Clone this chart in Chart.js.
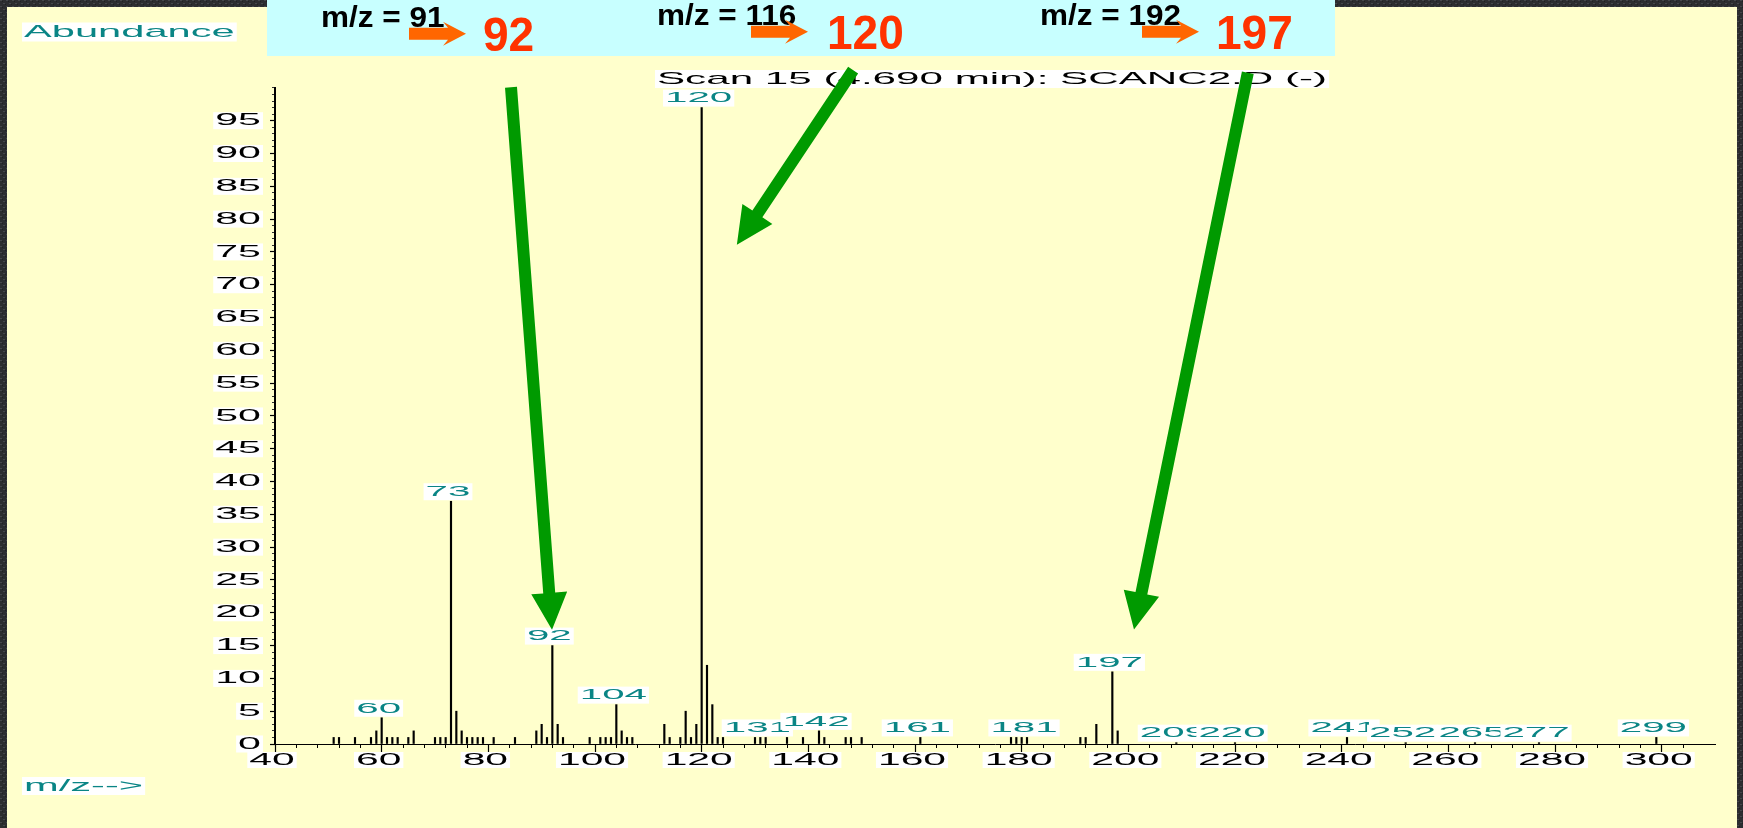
<!DOCTYPE html>
<html>
<head>
<meta charset="utf-8">
<script src="https://cdn.jsdelivr.net/npm/chart.js@4/dist/chart.umd.min.js"></script>
<style>
  html, body { margin: 0; padding: 0; background: #2f3033; }
  canvas { display: block; }
</style>
</head>
<body>
<canvas id="spectrum" width="1743" height="828"></canvas>
<script>
// scan 15 spectrum: m/z and relative abundance
const mz = [51, 52, 55, 58, 59, 60, 61, 62, 63, 65, 66, 70, 71, 72, 73, 74, 75, 76, 77, 78,
            79, 81, 85, 89, 90, 91, 92, 93, 94, 99, 101, 102, 103, 104, 105, 106, 107, 113, 114, 116,
            117, 118, 119, 120, 121, 122, 123, 124, 130, 131, 132, 136, 139, 142, 143, 147, 148, 150, 161, 178,
            179, 180, 181, 191, 192, 194, 197, 198, 209, 220, 241, 252, 265, 277, 299];
const abundance = [1, 1, 1, 1, 2, 4, 1, 1, 1, 1, 2, 1, 1, 1, 37, 5, 2, 1, 1, 1,
                   1, 1, 1, 2, 3, 1, 15, 3, 1, 1, 1, 1, 1, 6, 2, 1, 1, 3, 1, 1,
                   5, 1, 3, 97, 12, 6, 1, 1, 1, 1, 1, 1, 1, 2, 1, 1, 1, 1, 1, 1,
                   1, 1, 1, 1, 1, 3, 11, 2, 0.2, 0.2, 1, 0.2, 0.2, 0.2, 1];
// peaks that get their m/z printed above them
const labelledPeaks = [60, 73, 92, 104, 120, 131, 142, 161, 181, 197, 209, 220, 241, 252, 265, 277, 299];
const xTickLabels = [40, 60, 80, 100, 120, 140, 160, 180, 200, 220, 240, 260, 280, 300];
const yTickLabels = [0, 5, 10, 15, 20, 25, 30, 35, 40, 45, 50, 55, 60, 65, 70, 75, 80, 85, 90, 95];

// callout strip across the top: fragment -> observed ion
const fragmentFrom = ['m/z = 91', 'm/z = 116', 'm/z = 192'];
const fragmentTo = ['92', '120', '197'];

const FONT = '"Liberation Sans", Arial, sans-serif';
const TEAL = '#0a8585';

// ChemStation prints its text very wide, so stretch it through a horizontal scale
function wideText(ctx, text, x, y, o) {
  ctx.save();
  ctx.font = (o.bold ? 'bold ' : '') + o.size + 'px ' + FONT;
  const sx = o.sx || 1;
  const w = ctx.measureText(text).width * sx;
  let left = x;
  if (o.align === 'right') left = x - w;
  else if (o.align === 'center') left = x - w / 2;
  ctx.textBaseline = o.baseline || 'middle';
  if (o.box) {
    const h = o.boxH || o.size + 2;
    const pad = o.pad == null ? 2 : o.pad;
    ctx.fillStyle = o.box;
    ctx.fillRect(left - pad, y - h / 2, w + pad * 2, h);
  }
  ctx.translate(left, y);
  ctx.scale(sx, 1);
  ctx.fillStyle = o.color;
  ctx.textAlign = 'left';
  ctx.fillText(text, 0, 0);
  ctx.restore();
}

// block arrow from (x1,y1) to the tip (x2,y2); neck > headL gives swept-back barbs
function blockArrow(ctx, x1, y1, x2, y2, a) {
  const len = Math.hypot(x2 - x1, y2 - y1);
  const ang = Math.atan2(y2 - y1, x2 - x1);
  const barb = len - a.headL;
  const neck = a.neck != null ? len - a.neck : barb;
  ctx.save();
  ctx.translate(x1, y1);
  ctx.rotate(ang);
  ctx.beginPath();
  ctx.moveTo(0, -a.shaft / 2);
  ctx.lineTo(neck, -a.shaft / 2);
  ctx.lineTo(barb, -a.headW / 2);
  ctx.lineTo(len, 0);
  ctx.lineTo(barb, a.headW / 2);
  ctx.lineTo(neck, a.shaft / 2);
  ctx.lineTo(0, a.shaft / 2);
  ctx.closePath();
  ctx.fillStyle = a.color;
  ctx.fill();
  ctx.restore();
}

function darkPattern(ctx) {
  const c = document.createElement('canvas');
  c.width = 6; c.height = 6;
  const p = c.getContext('2d');
  p.fillStyle = '#2c2d30';
  p.fillRect(0, 0, 6, 6);
  p.fillStyle = '#45474b';
  p.fillRect(0, 0, 2, 1);
  p.fillRect(3, 3, 2, 1);
  p.fillStyle = '#1f2022';
  p.fillRect(2, 1, 1, 1);
  p.fillRect(5, 4, 1, 1);
  return ctx.createPattern(c, 'repeat');
}

const slidePlugin = {
  id: 'slide',
  beforeDraw(chart) {
    const ctx = chart.ctx;
    ctx.save();
    ctx.fillStyle = darkPattern(ctx);
    ctx.fillRect(0, 0, chart.width, chart.height);
    ctx.fillStyle = '#ffffcc';
    ctx.fillRect(7, 7, 1730, chart.height - 7);
    ctx.fillStyle = '#c8ffff';
    ctx.fillRect(267, 0, 1068, 56);
    ctx.restore();
  },
  afterDraw(chart) {
    const ctx = chart.ctx;
    const xs = chart.scales.x;
    const ys = chart.scales.y;

    // axis numbers
    yTickLabels.forEach(v => {
      wideText(ctx, String(v), 261, ys.getPixelForValue(v), {size: 17, sx: 2.42, color: '#000', align: 'right', box: '#fff', boxH: 17});
    });
    xTickLabels.forEach(v => {
      wideText(ctx, String(v), xs.getPixelForValue(v) - 3, 760, {size: 17, sx: 2.4, color: '#000', align: 'center', box: '#fff', boxH: 16});
    });

    wideText(ctx, 'Abundance', 24, 32, {size: 17, sx: 2.45, color: TEAL, box: '#fff', boxH: 19});
    wideText(ctx, 'm/z-->', 24, 786, {size: 17, sx: 2.45, color: TEAL, box: '#fff', boxH: 18});
    wideText(ctx, 'Scan 15 (4.690 min): SCANC2.D (-)', 657, 79, {size: 17, sx: 2.48, color: '#000', box: '#fff', boxH: 18});

    // m/z of the tagged peaks, sitting on the bar tops
    const bars = chart.getDatasetMeta(0).data;
    labelledPeaks.forEach(m => {
      const el = bars[mz.indexOf(m)];
      if (!el) return;
      wideText(ctx, String(m), el.x - 3, el.y - 9.5, {size: 15.5, sx: 2.6, color: TEAL, align: 'center', box: '#fff', boxH: 17});
    });

    // callout strip
    const groups = [
      {text: 321, arrow: 409, ion: 483, dy: 2},
      {text: 657, arrow: 751, ion: 827, dy: 0},
      {text: 1040, arrow: 1142, ion: 1216, dy: 0}
    ];
    groups.forEach((g, i) => {
      wideText(ctx, fragmentFrom[i], g.text, 25 + g.dy, {size: 30, bold: true, sx: 1.05, color: '#000', baseline: 'alphabetic'});
      blockArrow(ctx, g.arrow, 31.7 + g.dy, g.arrow + 57, 31.7 + g.dy,
        {shaft: 12, headW: 24, headL: 23, neck: 18, color: '#ff6600'});
      wideText(ctx, fragmentTo[i], g.ion, 48.5 + g.dy, {size: 49, bold: true, sx: 0.94, color: '#ff3300', baseline: 'alphabetic'});
    });

    // green pointers from the callouts down to the peaks (tail/tip in axis units)
    const pointers = [
      {from: [84.25, 100.1], to: [91.94, 17.4]},
      {from: [148.4, 102.7], to: [126.6, 76.1]},
      {from: [222.4, 102.3], to: [201.06, 17.45]}
    ];
    pointers.forEach(p => {
      blockArrow(ctx,
        xs.getPixelForValue(p.from[0]), ys.getPixelForValue(p.from[1]),
        xs.getPixelForValue(p.to[0]), ys.getPixelForValue(p.to[1]),
        {shaft: 12, headW: 36, headL: 37, color: '#009a00'});
    });
  }
};

const noSize = {w: s => { s.width = 0; }, h: s => { s.height = 0; }};

new Chart(document.getElementById('spectrum'), {
  type: 'bar',
  data: {
    datasets: [{
      data: mz.map((m, i) => ({x: m, y: abundance[i]})),
      backgroundColor: '#000',
      borderWidth: 0,
      barThickness: 1.5
    }]
  },
  options: {
    responsive: false,
    animation: false,
    layout: {padding: {left: 275, right: 28, top: 87.9, bottom: 84}},
    plugins: {
      legend: {display: false},
      tooltip: {enabled: false}
    },
    scales: {
      x: {
        type: 'linear', min: 40, max: 310, offset: false,
        ticks: {display: false, stepSize: 4},
        grid: {drawOnChartArea: false, offset: false, tickLength: 4, tickColor: '#000', tickWidth: 1},
        border: {color: '#000', width: 1},
        afterBuildTicks: s => { s.ticks = s.ticks.filter(t => (t.value - 40) % 4 === 0); },
        afterFit: noSize.h
      },
      xMajor: {
        type: 'linear', axis: 'x', position: 'bottom', min: 40, max: 310, offset: false,
        ticks: {display: false, stepSize: 20},
        grid: {drawOnChartArea: false, offset: false, tickLength: 8, tickColor: '#000', tickWidth: 1.2},
        border: {display: false},
        afterBuildTicks: s => { s.ticks = s.ticks.filter(t => t.value % 20 === 0 && t.value <= 300); },
        afterFit: noSize.h
      },
      y: {
        type: 'linear', min: 0, max: 100,
        ticks: {display: false, stepSize: 1},
        grid: {drawOnChartArea: false, tickLength: 3, tickColor: '#333', tickWidth: 1},
        border: {color: '#000', width: 2},
        afterFit: noSize.w
      },
      yMajor: {
        type: 'linear', axis: 'y', position: 'left', min: 0, max: 100,
        ticks: {display: false, stepSize: 5},
        grid: {drawOnChartArea: false, tickLength: 5, tickColor: '#000', tickWidth: 1.2},
        border: {display: false},
        afterBuildTicks: s => { s.ticks = s.ticks.filter(t => t.value <= 95); },
        afterFit: noSize.w
      }
    }
  },
  plugins: [slidePlugin]
});
</script>
</body>
</html>
